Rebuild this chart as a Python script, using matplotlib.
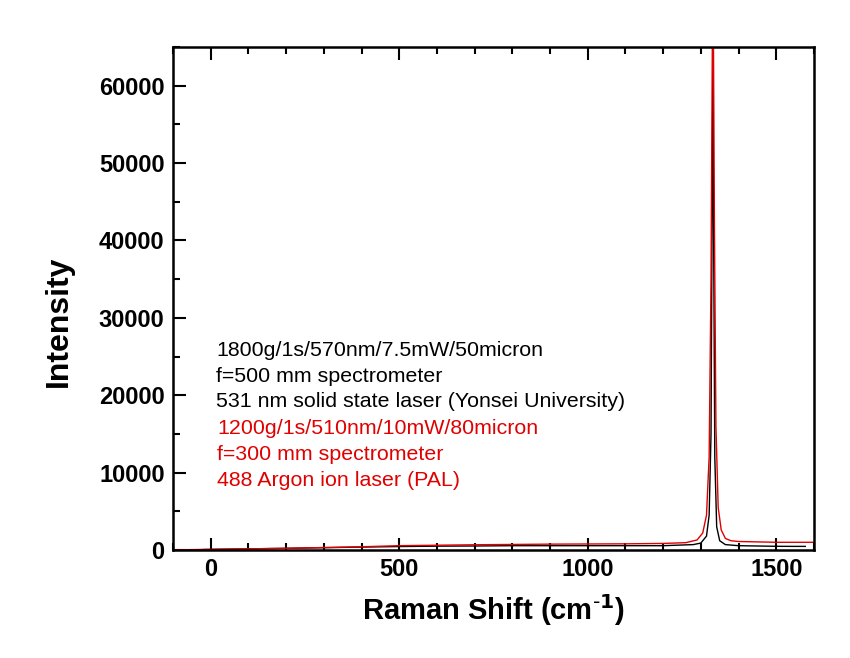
import matplotlib
matplotlib.use("Agg")
import matplotlib.pyplot as plt
import matplotlib.ticker as ticker

plt.rcParams['font.family'] = ['Liberation Sans', 'DejaVu Sans']

# black spectrum: 1800g grating, f=500 mm
shift_black = [-20, 0, 100, 200, 300, 400, 500, 600, 700, 800, 900, 1000, 1100, 1200,
               1280, 1300, 1315, 1322, 1327, 1330, 1332, 1334, 1337, 1342, 1350,
               1365, 1400, 1450, 1500, 1550, 1577]
int_black = [60, 80, 150, 220, 300, 380, 450, 500, 520, 560, 560, 560, 560, 560,
             700, 900, 1800, 4500, 15000, 45000, 62000, 40000, 12000, 3000, 1200,
             700, 560, 520, 480, 470, 470]

# red spectrum: 1200g grating, f=300 mm
shift_red = [-100, 0, 100, 200, 300, 400, 500, 600, 700, 800, 900, 1000, 1100, 1200,
             1260, 1290, 1305, 1315, 1322, 1327, 1331, 1333, 1336, 1340, 1346, 1354,
             1365, 1380, 1400, 1450, 1500, 1550, 1600]
int_red = [20, 90, 150, 220, 320, 420, 560, 620, 680, 720, 760, 780, 800, 850,
           950, 1300, 2200, 4500, 12000, 35000, 70000, 70000, 42000, 16000, 5500, 2600,
           1500, 1200, 1100, 1050, 1000, 1000, 1000]

black_notes = ["1800g/1s/570nm/7.5mW/50micron",
               "f=500 mm spectrometer",
               "531 nm solid state laser (Yonsei University)"]
red_notes = ["1200g/1s/510nm/10mW/80micron",
             "f=300 mm spectrometer",
             "488 Argon ion laser (PAL)"]

fig = plt.figure(figsize=(8.5, 6.58), dpi=100)
ax = fig.add_axes([0.2035, 0.1641, 0.7541, 0.7645])

ax.plot(shift_black, int_black, color='black', linewidth=1.0)
ax.plot(shift_red, int_red, color='#e00000', linewidth=1.0)

ax.set_xlim(-100, 1600)
ax.set_ylim(0, 65000)

ax.xaxis.set_major_locator(ticker.MultipleLocator(500))
ax.xaxis.set_minor_locator(ticker.MultipleLocator(100))
ax.yaxis.set_major_locator(ticker.MultipleLocator(10000))
ax.yaxis.set_minor_locator(ticker.MultipleLocator(5000))

ax.tick_params(which='both', direction='in', top=True, right=False, width=1.5)
ax.tick_params(which='major', length=9, labelsize=17, pad=6)
ax.tick_params(which='minor', length=5)
for lab in ax.get_xticklabels() + ax.get_yticklabels():
    lab.set_fontweight('bold')

for side in ax.spines.values():
    side.set_linewidth(1.8)

ax.set_xlabel(r"Raman Shift (cm$^{\mathbf{\text{-}1}}$)", fontsize=21, fontweight='bold', labelpad=8)
ax.set_ylabel("Intensity", fontsize=23, fontweight='bold')
ax.yaxis.set_label_coords(-0.155, 0.455)

y0 = 350
for i, t in enumerate(black_notes):
    fig.text(216 / 850, 1 - (y0 + 26 * i) / 658, t, color='black', fontsize=15.4, va='center')
for i, t in enumerate(red_notes):
    fig.text(217 / 850, 1 - (y0 + 26 * (i + 3)) / 658, t, color='#e00000', fontsize=15.4, va='center')

fig.savefig("out.png", dpi=100)
